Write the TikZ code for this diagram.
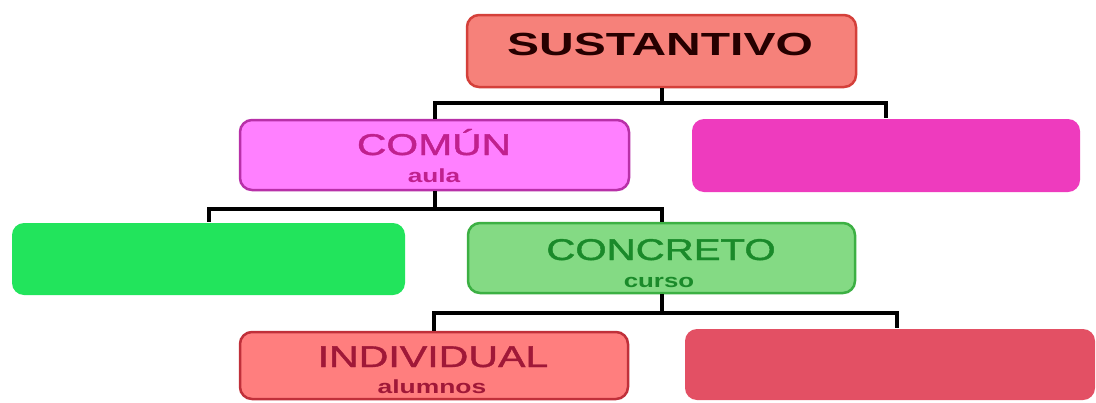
\documentclass[tikz,border=0pt]{standalone}
\usepackage{fontspec}
\setmainfont{Liberation Sans}
\newfontface\medfont{Liberation Sans}[FakeBold=1.2]
\usepackage{graphicx}
\newcommand{\hstretch}[2]{\scalebox{#1}[1]{#2}}
\definecolor{susfill}{HTML}{F6817A}
\definecolor{susdraw}{HTML}{D4403A}
\definecolor{comfill}{HTML}{FF80FF}
\definecolor{comdraw}{HTML}{B830A8}
\definecolor{comtext}{HTML}{C0208E}
\definecolor{pinkfill}{HTML}{EE3BBE}
\definecolor{greenfill}{HTML}{22E45C}
\definecolor{confill}{HTML}{84DA84}
\definecolor{condraw}{HTML}{3CB043}
\definecolor{context}{HTML}{1A8A2A}
\definecolor{indfill}{HTML}{FF7E7E}
\definecolor{inddraw}{HTML}{C0303A}
\definecolor{indtext}{HTML}{A01838}
\definecolor{redfill}{HTML}{E35064}
\tikzset{
  box/.style={rounded corners=12pt, line width=2.5pt, inner sep=0pt},
  conn/.style={line width=4pt, black},
  ttl/.style={anchor=base, inner sep=0pt, font=\medfont\fontsize{30}{34}\selectfont},
  sub/.style={anchor=base, inner sep=0pt, font=\bfseries\fontsize{19}{22}\selectfont},
}
\begin{document}
\begin{tikzpicture}[x=1pt,y=-1pt]
\useasboundingbox[fill=white] (0,0) rectangle (1096,402);
% boxes
\node[box, fill=susfill, draw=susdraw, minimum width=389pt, minimum height=72pt] (sus) at (661.5,51) {};
\node[box, fill=comfill, draw=comdraw, minimum width=389pt, minimum height=70pt] (comun) at (434.5,155) {};
\node[box, fill=pinkfill, minimum width=388pt, minimum height=73pt] (pinkR) at (886,155.5) {};
\node[box, fill=greenfill, minimum width=393pt, minimum height=72pt] (greenL) at (208.5,259) {};
\node[box, fill=confill, draw=condraw, minimum width=387pt, minimum height=70pt] (concreto) at (661.5,258) {};
\node[box, fill=indfill, draw=inddraw, minimum width=388pt, minimum height=67pt] (indiv) at (434,365.5) {};
\node[box, fill=redfill, minimum width=410pt, minimum height=71pt] (redR) at (890,364.5) {};
% texts
\node[ttl, font=\bfseries\fontsize{32}{36}\selectfont, text={black!85!red}] (susT) at (660,55) {\hstretch{1.5}{SUSTANTIVO}};
\node[ttl, text=comtext] (comT) at (434,155) {\hstretch{1.36}{COMÚN}};
\node[sub, text=comtext] (comS) at (434,182) {\hstretch{1.38}{aula}};
\node[ttl, text=context] (conT) at (661,260) {\hstretch{1.34}{CONCRETO}};
\node[sub, text=context] (conS) at (659,287) {\hstretch{1.36}{curso}};
\node[ttl, text=indtext] (indT) at (433,367) {\hstretch{1.37}{INDIVIDUAL}};
\node[sub, text=indtext] (indS) at (432,393) {\hstretch{1.39}{alumnos}};
% bus coordinates
\coordinate (b1) at (0,103);
\coordinate (b2) at (0,209);
\coordinate (b3) at (0,313);
\coordinate (rj) at ([xshift=7pt]redR.north);
% connectors
\draw[conn] (sus.south) -- (sus.south |- b1);
\draw[conn] (comun.north) |- (pinkR.north |- b1) -- (pinkR.north);
\draw[conn] (comun.south) -- (comun.south |- b2);
\draw[conn] (greenL.north) |- (concreto.north |- b2) -- (concreto.north);
\draw[conn] (concreto.south) -- (concreto.south |- b3);
\draw[conn] (indiv.north) |- (rj |- b3) -- (rj);
\end{tikzpicture}
\end{document}
